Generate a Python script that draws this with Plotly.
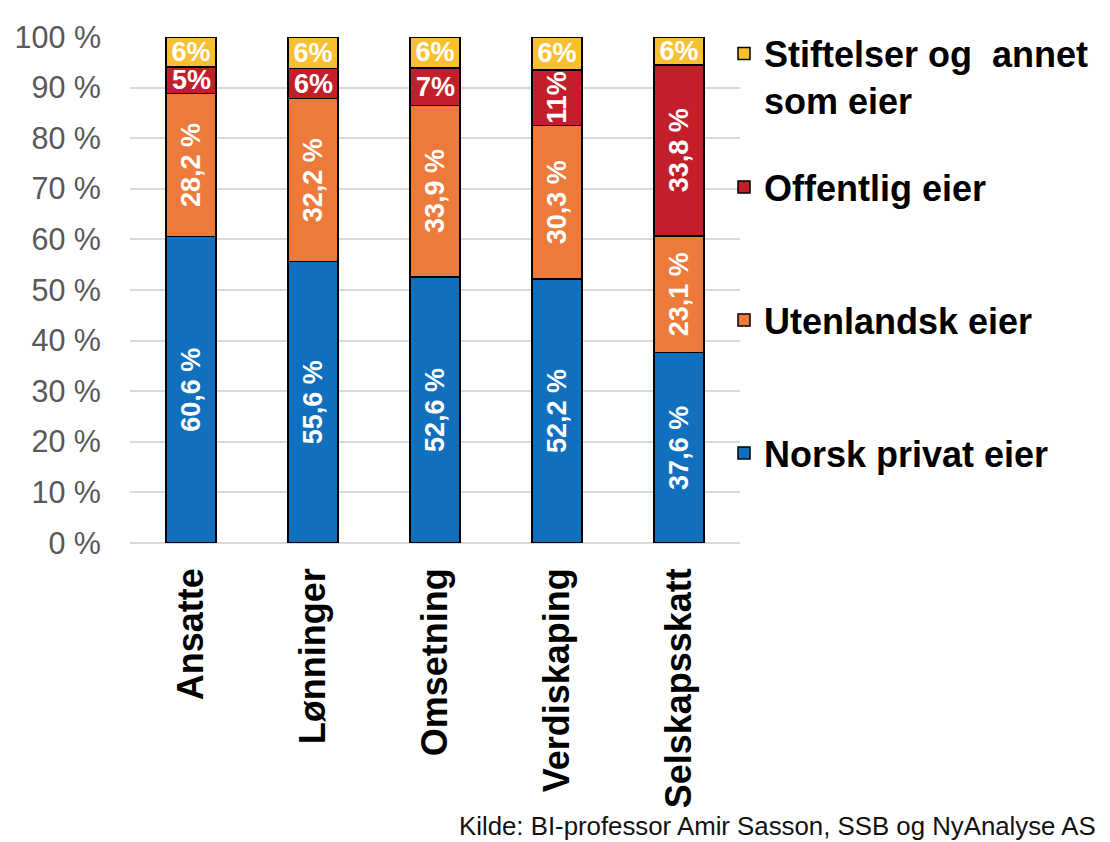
import plotly.graph_objects as go

categories = ["Ansatte", "Lønninger", "Omsetning", "Verdiskaping", "Selskapsskatt"]

norsk_privat = [60.6, 55.6, 52.6, 52.2, 37.6]
utenlandsk = [28.2, 32.2, 33.9, 30.3, 23.1]
offentlig = [5.3, 6.0, 7.4, 11.0, 33.8]
stiftelser = [5.9, 6.2, 6.1, 6.5, 5.5]

norsk_labels = ["60,6 %", "55,6 %", "52,6 %", "52,2 %", "37,6 %"]
utenlandsk_labels = ["28,2 %", "32,2 %", "33,9 %", "30,3 %", "23,1 %"]
offentlig_labels = ["5%", "6%", "7%", "11%", "33,8 %"]
offentlig_angles = [0, 0, 0, -90, -90]
stiftelser_labels = ["6%", "6%", "6%", "6%", "6%"]

names = ["Norsk privat eier", "Utenlandsk eier", "Offentlig eier", "Stiftelser og  annet<br>som eier"]
colors = ["#1170BE", "#EC7A3A", "#C21F2B", "#F8BF31"]

FONT = "Liberation Sans, Arial, Helvetica, sans-serif"
label_font = dict(family=FONT, size=27, color="white", weight="bold")

fig = go.Figure()
series = [
    (norsk_privat, norsk_labels, -90, "legend4"),
    (utenlandsk, utenlandsk_labels, -90, "legend3"),
    (offentlig, None, 0, "legend2"),
    (stiftelser, stiftelser_labels, 0, "legend"),
]
for i, (vals, labels, ang, leg) in enumerate(series):
    fig.add_trace(go.Bar(
        x=categories, y=vals, name=names[i],
        marker=dict(color=colors[i], line=dict(color="black", width=1.5)),
        text=labels, textposition="inside" if labels else "none",
        insidetextanchor="middle", textangle=ang, constraintext="none",
        textfont=label_font, width=0.41, legend=leg,
        hoverinfo="skip",
    ))

# labels for the public-owner segment (mixed orientations)
for i, c in enumerate(categories):
    mid = norsk_privat[i] + utenlandsk[i] + offentlig[i] / 2
    fig.add_annotation(x=c, y=mid, text=offentlig_labels[i], showarrow=False,
                       textangle=offentlig_angles[i], font=label_font)

L, R, T, B = 130, 740, 37, 543
def px_x(p):
    return (p - L) / (R - L)
def px_y(p):
    return (B - p) / (B - T)

fig.add_annotation(x=px_x(1098), xref="paper", xanchor="right",
                   y=px_y(826), yref="paper", yanchor="middle",
                   text="Kilde: BI-professor Amir Sasson, SSB og NyAnalyse AS",
                   showarrow=False, font=dict(family=FONT, size=25.8, color="#111"))

leg_common = dict(font=dict(family=FONT, size=36, color="black", weight="bold"),
                  x=px_x(724), xanchor="left", yanchor="middle", bgcolor="rgba(0,0,0,0)",
                  valign="top", itemwidth=30)

fig.update_layout(
    width=1110, height=842,
    margin=dict(l=L, r=1110 - R, t=T, b=842 - B, autoexpand=False),
    plot_bgcolor="white", paper_bgcolor="white",
    barmode="stack",
    showlegend=True,
    legend=dict(**leg_common, y=px_y(77)),
    legend2=dict(**leg_common, y=px_y(187)),
    legend3=dict(**leg_common, y=px_y(320)),
    legend4=dict(**leg_common, y=px_y(453)),
    xaxis=dict(tickangle=-90, tickfont=dict(family=FONT, size=36, color="black", weight="bold"),
               ticklabelstandoff=17, showline=False, showgrid=False),
    yaxis=dict(range=[0, 100], dtick=10, ticksuffix=" %",
               tickfont=dict(family=FONT, size=30.5, color="#595959"),
               gridcolor="#D9D9D9", gridwidth=1.5, zeroline=True, zerolinecolor="#D9D9D9",
               zerolinewidth=1.5, ticklabelstandoff=28),
)

fig.write_html("out.html", config={"displayModeBar": False},
               post_script="document.body.style.margin='0';document.body.style.overflow='hidden';")
